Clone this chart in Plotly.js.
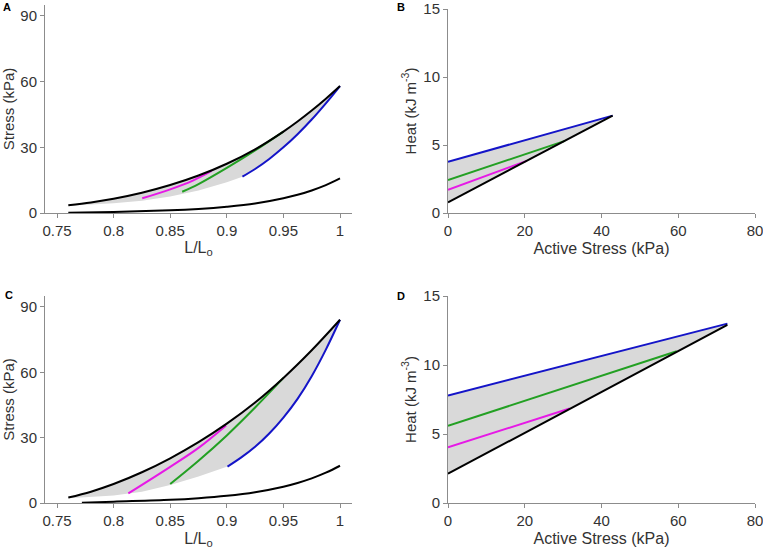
<!DOCTYPE html>
<html>
<head>
<meta charset="utf-8">
<script src="https://cdn.plot.ly/plotly-3.0.1.min.js"></script>
<style>html,body{margin:0;padding:0;background:#fff;}#chart{width:763px;height:554px;}</style>
</head>
<body>
<div id="chart"></div>
<script>
// ---------- Panel A (stress vs L/Lo) ----------
var xA_total = [0.76, 0.78, 0.80, 0.825, 0.85, 0.875, 0.90, 0.925, 0.95, 0.9625, 0.975, 0.9875, 1.0];
var yA_total = [3.5, 4.8, 6.5, 9.25, 12.75, 17.1, 22.5, 29.1, 37.2, 41.8, 46.8, 52.2, 58.0];
var xA_passive = [0.76, 0.80, 0.85, 0.875, 0.90, 0.925, 0.95, 0.9625, 0.975, 0.9875, 1.0];
var yA_passive = [0.1, 0.5, 1.2, 1.85, 2.85, 4.3, 6.7, 8.3, 10.3, 12.7, 15.8];
var xA_blue = [0.9138, 0.925, 0.9375, 0.95, 0.9625, 0.975, 0.9875, 1.0];
var yA_blue = [16.6, 20.1, 24.7, 30.0, 36.0, 42.7, 50.1, 58.0];
var xA_green = [0.8606, 0.875, 0.90, 0.925, 0.95];
var yA_green = [9.7, 13.2, 20.6, 28.6, 37.2];
var xA_magenta = [0.8253, 0.85, 0.87, 0.8866];
var yA_magenta = [6.7, 10.8, 14.8, 19.2];
var xA_edge = [0.76, 0.80, 0.825, 0.85, 0.875, 0.90, 0.9138];
var yA_edge = [3.3, 4.4, 5.6, 7.5, 10.3, 14.0, 16.6];

// ---------- Panel B (heat vs active stress) ----------
var xB_black = [0, 42.9];  var yB_black = [0.79, 7.16];
var xB_blue = [0, 42.9];   var yB_blue = [3.77, 7.16];
var xB_green = [0, 30.5];  var yB_green = [2.43, 5.30];
var xB_magenta = [0, 20.5]; var yB_magenta = [1.71, 3.83];

// ---------- Panel C ----------
var xC_total = [0.76, 0.78, 0.80, 0.825, 0.85, 0.875, 0.90, 0.925, 0.95, 0.975, 1.0];
var yC_total = [2.5, 5.2, 8.7, 14.1, 20.5, 27.9, 36.4, 46.1, 57.4, 70.1, 84.1];
var xC_passive = [0.772, 0.80, 0.85, 0.875, 0.90, 0.925, 0.95, 0.9625, 0.975, 0.9875, 1.0];
var yC_passive = [0.1, 0.6, 1.45, 2.2, 3.3, 4.95, 7.5, 9.2, 11.3, 13.9, 17.1];
var xC_blue = [0.9006, 0.9125, 0.925, 0.9375, 0.95, 0.9625, 0.975, 0.9875, 1.0];
var yC_blue = [16.7, 20.8, 25.8, 31.9, 39.2, 47.8, 58.2, 70.4, 84.1];
var xC_green = [0.85, 0.875, 0.90, 0.925, 0.95];
var yC_green = [8.7, 19.4, 31.0, 43.8, 57.4];
var xC_magenta = [0.813, 0.85, 0.875, 0.8994];
var yC_magenta = [4.4, 16.6, 25.3, 35.6];
var xC_edge = [0.76, 0.80, 0.825, 0.85, 0.875, 0.9006];
var yC_edge = [2.2, 3.4, 5.2, 8.3, 12.2, 16.7];

// ---------- Panel D ----------
var xD_black = [0, 72.8];  var yD_black = [2.12, 12.9];
var xD_blue = [0, 72.8];   var yD_blue = [7.79, 13.0];
var xD_green = [0, 59.6];  var yD_green = [5.59, 11.0];
var xD_magenta = [0, 31.7]; var yD_magenta = [4.03, 6.85];

// tick labels
var lenTicks = [0.75, 0.8, 0.85, 0.9, 0.95, 1];
var lenTickText = ['0.75', '0.8', '0.85', '0.9', '0.95', '1'];
var stressTicks = [0, 30, 60, 90];
var heatTicks = [0, 5, 10, 15];
var activeTicks = [0, 20, 40, 60, 80];

var BLUE = '#1414c8', GREEN = '#23a023', MAGENTA = '#e619e6', BLACK = '#000000', FILL = '#d9d9d9';
var LW = 2;

function rev(a) { return a.slice().reverse(); }
function line(x, y, color, xa, ya) {
  return {x: x, y: y, xaxis: xa, yaxis: ya, mode: 'lines', type: 'scatter',
          line: {color: color, width: LW, shape: 'spline', smoothing: 1}, hoverinfo: 'skip', showlegend: false};
}
function loopFill(xTop, yTop, xBlue, yBlue, xEdge, yEdge, xa, ya) {
  var x = xTop.concat(rev(xBlue)).concat(rev(xEdge));
  var y = yTop.concat(rev(yBlue)).concat(rev(yEdge));
  return {x: x, y: y, xaxis: xa, yaxis: ya, mode: 'lines', type: 'scatter', fill: 'toself',
          fillcolor: FILL, line: {width: 0, color: FILL}, hoverinfo: 'skip', showlegend: false};
}
function triFill(xBlack, yBlack, xBlue, yBlue, xa, ya) {
  return {x: xBlack.concat(rev(xBlue)), y: yBlack.concat(rev(yBlue)), xaxis: xa, yaxis: ya,
          mode: 'lines', type: 'scatter', fill: 'toself', fillcolor: FILL,
          line: {width: 0, color: FILL}, hoverinfo: 'skip', showlegend: false};
}

var traces = [
  loopFill(xA_total, yA_total, xA_blue, yA_blue, xA_edge, yA_edge, 'x', 'y'),
  line(xA_passive, yA_passive, BLACK, 'x', 'y'),
  line(xA_blue, yA_blue, BLUE, 'x', 'y'),
  line(xA_green, yA_green, GREEN, 'x', 'y'),
  line(xA_magenta, yA_magenta, MAGENTA, 'x', 'y'),
  line(xA_total, yA_total, BLACK, 'x', 'y'),

  triFill(xB_black, yB_black, xB_blue, yB_blue, 'x2', 'y2'),
  line(xB_blue, yB_blue, BLUE, 'x2', 'y2'),
  line(xB_green, yB_green, GREEN, 'x2', 'y2'),
  line(xB_magenta, yB_magenta, MAGENTA, 'x2', 'y2'),
  line(xB_black, yB_black, BLACK, 'x2', 'y2'),

  loopFill(xC_total, yC_total, xC_blue, yC_blue, xC_edge, yC_edge, 'x3', 'y3'),
  line(xC_passive, yC_passive, BLACK, 'x3', 'y3'),
  line(xC_blue, yC_blue, BLUE, 'x3', 'y3'),
  line(xC_green, yC_green, GREEN, 'x3', 'y3'),
  line(xC_magenta, yC_magenta, MAGENTA, 'x3', 'y3'),
  line(xC_total, yC_total, BLACK, 'x3', 'y3'),

  triFill(xD_black, yD_black, xD_blue, yD_blue, 'x4', 'y4'),
  line(xD_blue, yD_blue, BLUE, 'x4', 'y4'),
  line(xD_green, yD_green, GREEN, 'x4', 'y4'),
  line(xD_magenta, yD_magenta, MAGENTA, 'x4', 'y4'),
  line(xD_black, yD_black, BLACK, 'x4', 'y4')
];

var W = 763, H = 554;
function px(x) { return x / W; }
function py(y) { return 1 - y / H; }

var FONT = 'Liberation Sans, Arial, sans-serif';
var TXT = '#333333';
var AXC = '#8c8c8c';

function xaxisCfg(dom, anchor, range, ticks, ticktext, title, standoff) {
  return {domain: dom, anchor: anchor, range: range, tickmode: 'array', tickvals: ticks,
          ticktext: ticktext || ticks.map(String), showgrid: false, zeroline: false,
          showline: true, linecolor: AXC, linewidth: 1, ticks: 'outside', ticklen: 4, tickcolor: AXC,
          tickfont: {family: FONT, size: 15, color: TXT}, automargin: false, ticklabeloverflow: 'allow',
          title: {text: title, font: {family: FONT, size: 16, color: TXT}, standoff: standoff}};
}
function yaxisCfg(dom, anchor, range, ticks, title, standoff) {
  return {domain: dom, anchor: anchor, range: range, tickmode: 'array', tickvals: ticks,
          showgrid: false, zeroline: false, showline: true, linecolor: AXC, linewidth: 1,
          ticks: 'outside', ticklen: 4, tickcolor: AXC,
          tickfont: {family: FONT, size: 15, color: TXT}, automargin: false, ticklabeloverflow: 'allow',
          title: {text: title, font: {family: FONT, size: 15, color: TXT}, standoff: standoff}};
}

var xLeft = [px(45), px(352)], xRight = [px(448), px(755)];
var yTopA = [py(213), py(5)], yTopB = [py(213), py(9)], yBot = [py(503), py(296)];

var layout = {
  width: W, height: H,
  margin: {l: 0, r: 0, t: 0, b: 0, pad: 0},
  paper_bgcolor: '#ffffff', plot_bgcolor: '#ffffff',
  showlegend: false,
  font: {family: FONT, color: TXT},
  xaxis: xaxisCfg(xLeft, 'y', [0.7394, 1.0106], lenTicks, lenTickText, 'L/L<sub>o</sub>', 0),
  yaxis: yaxisCfg(yTopA, 'x', [0, 95], stressTicks, 'Stress (kPa)', 7),
  xaxis2: xaxisCfg(xRight, 'y2', [0, 80], activeTicks, null, 'Active Stress (kPa)', 4),
  yaxis2: yaxisCfg(yTopB, 'x2', [0, 15], heatTicks, 'Heat (kJ m<sup>-3</sup>)', 3),
  xaxis3: xaxisCfg(xLeft, 'y3', [0.7394, 1.0106], lenTicks, lenTickText, 'L/L<sub>o</sub>', 4),
  yaxis3: yaxisCfg(yBot, 'x3', [0, 95], stressTicks, 'Stress (kPa)', 7),
  xaxis4: xaxisCfg(xRight, 'y4', [0, 80], activeTicks, null, 'Active Stress (kPa)', 4),
  yaxis4: yaxisCfg(yBot, 'x4', [0, 15], heatTicks, 'Heat (kJ m<sup>-3</sup>)', 3),
  annotations: [
    {text: '<b>A</b>', x: px(7), y: py(7), xref: 'paper', yref: 'paper', xanchor: 'center', yanchor: 'middle', showarrow: false, font: {family: FONT, size: 11, color: '#000'}},
    {text: '<b>B</b>', x: px(401), y: py(7), xref: 'paper', yref: 'paper', xanchor: 'center', yanchor: 'middle', showarrow: false, font: {family: FONT, size: 11, color: '#000'}},
    {text: '<b>C</b>', x: px(9), y: py(294.5), xref: 'paper', yref: 'paper', xanchor: 'center', yanchor: 'middle', showarrow: false, font: {family: FONT, size: 11, color: '#000'}},
    {text: '<b>D</b>', x: px(401), y: py(295.5), xref: 'paper', yref: 'paper', xanchor: 'center', yanchor: 'middle', showarrow: false, font: {family: FONT, size: 11, color: '#000'}}
  ]
};

Plotly.newPlot('chart', traces, layout, {displayModeBar: false, staticPlot: true});
</script>
</body>
</html>
